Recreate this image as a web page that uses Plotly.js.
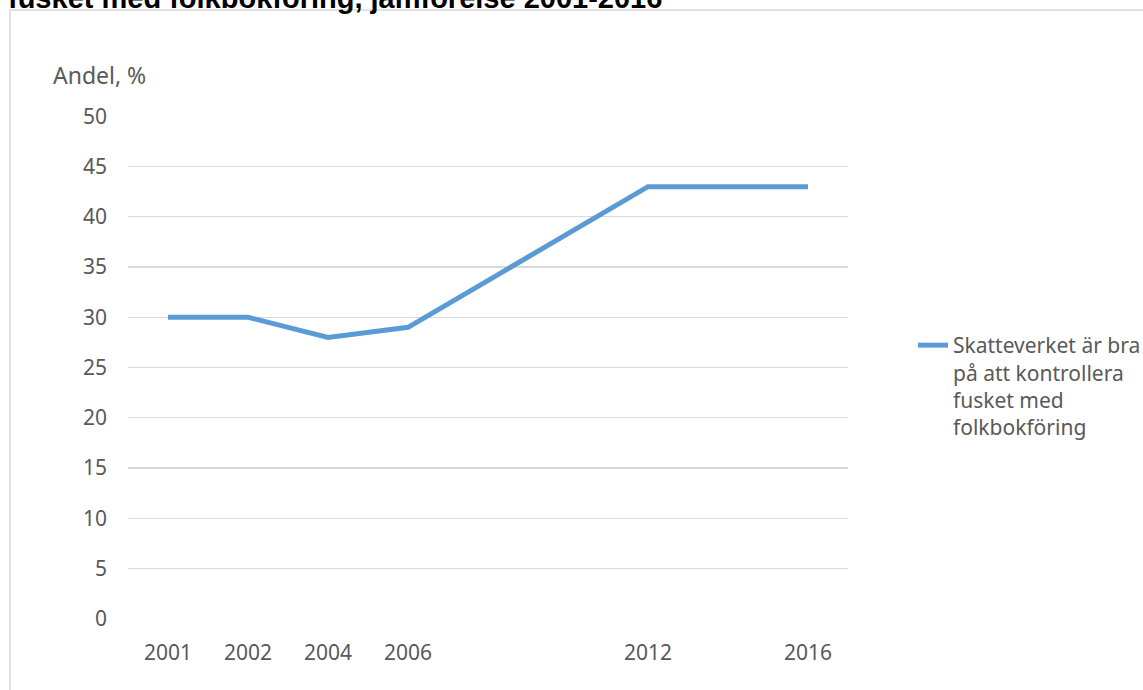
<!DOCTYPE html>
<html>
<head>
<meta charset="utf-8">
<script src="https://cdn.plot.ly/plotly-3.0.1.min.js"></script>
<style>html,body{margin:0;padding:0;background:#fff;}#chart{width:1143px;height:690px;}</style>
</head>
<body>
<div id="chart"></div>
<script>
// Categories (blank slots keep the original Excel spacing)
const categories = ['2001', '2002', '2004', '2006', '', '', '2012', '', '2016'];
const values = [30, 30, 28, 29, null, null, 43, null, 43];
const seriesName = 'Skatteverket är bra<br>på att kontrollera<br>fusket med<br>folkbokföring';
const yTicks = [0, 5, 10, 15, 20, 25, 30, 35, 40, 45, 50];
const titleText = 'fusket med folkbokföring, jämförelse 2001-2016';
const yLabel = 'Andel, %';

const idx = categories.map((c, i) => i);
const FONT = '"Noto Sans", "Open Sans", sans-serif';

const trace = {
  type: 'scatter', mode: 'lines',
  x: idx, y: values, name: seriesName,
  connectgaps: true,
  line: {color: '#5B9BD5', width: 5, shape: 'linear'},
  showlegend: true
};

const layout = {
  width: 1143, height: 690,
  margin: {l: 128, r: 295, t: 116, b: 71, autoexpand: false},
  paper_bgcolor: '#fff', plot_bgcolor: '#fff',
  font: {family: FONT, color: '#595959', size: 21},
  title: {text: '<b>' + titleText + '</b>', x: 8/1143, xanchor: 'left', xref: 'container',
          y: 1 - 8/690, yanchor: 'bottom', yref: 'container', automargin: false,
          font: {family: '"Liberation Sans", Arial, sans-serif', size: 29, color: '#000'}},
  xaxis: {
    range: [-0.5, categories.length - 0.5], tickmode: 'array', tickvals: idx, ticktext: categories,
    showgrid: false, zeroline: false, showline: false, ticks: '', ticklabelstandoff: 19,
    fixedrange: true, automargin: false
  },
  yaxis: {
    range: [-0.04, 50.04], tickmode: 'array', tickvals: yTicks,
    showgrid: true, gridcolor: '#D9D9D9', gridwidth: 1.3, zeroline: false, showline: false,
    ticks: '', ticklabelstandoff: 20, fixedrange: true, automargin: false
  },
  legend: {x: (913-128)/720, xanchor: 'left', y: (619-325)/503, yanchor: 'top', valign: 'top',
           font: {size: 21, color: '#595959'}, bgcolor: 'rgba(0,0,0,0)', tracegroupgap: 0},
  annotations: [{
    text: yLabel, xref: 'paper', yref: 'paper', x: (51-128)/720, y: (619-75)/503,
    xanchor: 'left', yanchor: 'middle', showarrow: false, font: {size: 23, color: '#595959'}
  }],
  shapes: [{
    type: 'rect', xref: 'paper', yref: 'paper', layer: 'below',
    x0: (10-128)/720, x1: (1160-128)/720, y0: (619-710)/503, y1: (619-10)/503,
    line: {color: '#D9D9D9', width: 1.5}, fillcolor: 'rgba(0,0,0,0)'
  }]
};

Plotly.newPlot('chart', [trace], layout, {displayModeBar: false, staticPlot: true});
</script>
</body>
</html>
